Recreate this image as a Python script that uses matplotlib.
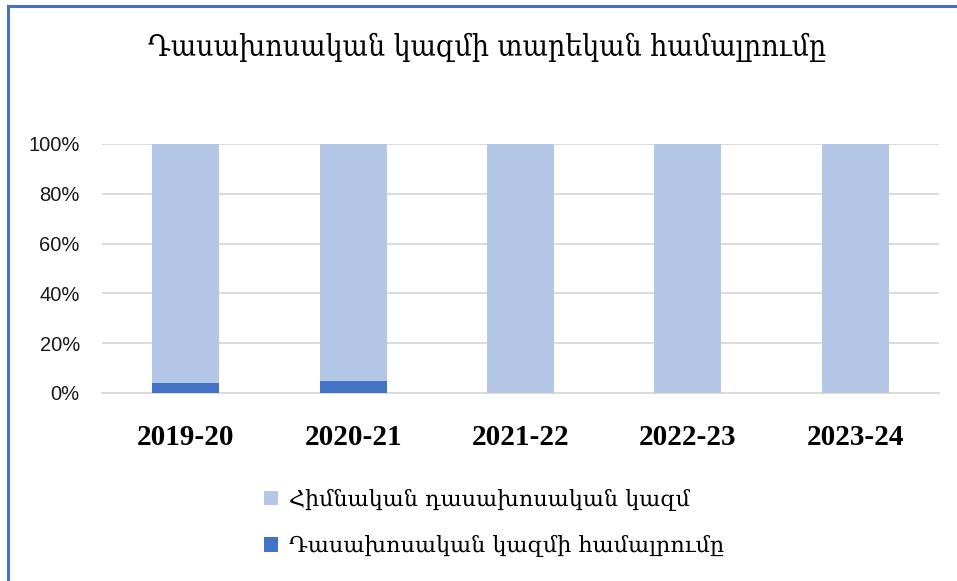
import matplotlib.pyplot as plt
import matplotlib.ticker as mticker
from matplotlib.lines import Line2D

years = ["2019-20", "2020-21", "2021-22", "2022-23", "2023-24"]
base_staff = [96.1, 95.3, 100.0, 100.0, 100.0]      # Հիմնական դասախոսական կազմ, %
new_staff = [3.9, 4.7, 0.0, 0.0, 0.0]               # Դասախոսական կազմի համալրումը, %

title = "Դասախոսական կազմի տարեկան համալրումը"
labels = ["Հիմնական դասախոսական կազմ", "Դասախոսական կազմի համալրումը"]

LIGHT = "#B4C7E7"
DARK = "#4472C4"
SERIF = ["DejaVu Serif"]

fig = plt.figure(figsize=(9.57, 5.81), dpi=100)
ax = fig.add_axes([0.1066, 0.3236, 0.8746, 0.4286])

x = range(len(years))
b_dark = ax.bar(x, [v / 100 for v in new_staff], width=0.4, color=DARK, zorder=3)
b_light = ax.bar(x, [v / 100 for v in base_staff], width=0.4,
                 bottom=[v / 100 for v in new_staff], color=LIGHT, zorder=3)

ax.set_xlim(-0.5, len(years) - 0.5)
ax.set_ylim(0, 1)
ax.yaxis.set_major_locator(mticker.MultipleLocator(0.2))
ax.yaxis.set_major_formatter(mticker.PercentFormatter(xmax=1, decimals=0))
ax.grid(axis="y", color="#D9D9D9", linewidth=1.3, zorder=0)
ax.set_axisbelow(True)
for s in ["top", "right", "left"]:
    ax.spines[s].set_visible(False)
ax.spines["bottom"].set_color("#D9D9D9")
ax.spines["bottom"].set_linewidth(1.3)
ax.tick_params(axis="both", length=0)
ax.tick_params(axis="y", pad=16, labelsize=14.5, labelcolor="#1a1a1a")
for t in ax.get_yticklabels():
    t.set_family("Liberation Sans")

ax.set_xticks(list(x))
ax.set_xticklabels(years, family="Liberation Serif", fontweight="bold", fontsize=21)
ax.tick_params(axis="x", pad=22)

fig.text(0.509, 0.918, title, ha="center", va="center", fontsize=21.5, family=SERIF,
         fontstretch="condensed")

leg = fig.legend([b_light, b_dark], labels, loc="upper left",
                 bbox_to_anchor=(0.2545, 0.193), frameon=False,
                 prop={"family": SERIF, "size": 16},
                 handlelength=0.65, handleheight=0.65, handletextpad=0.5,
                 labelspacing=1.1)

# chart frame (visible left and top edges)
fig.add_artist(Line2D([0.0085, 0.0085], [0, 0.989], color=DARK, linewidth=2.2,
                      transform=fig.transFigure))
fig.add_artist(Line2D([0.0085, 1], [0.989, 0.989], color=DARK, linewidth=2.2,
                      transform=fig.transFigure))

fig.savefig("out.png", dpi=100)
plt.close(fig)
